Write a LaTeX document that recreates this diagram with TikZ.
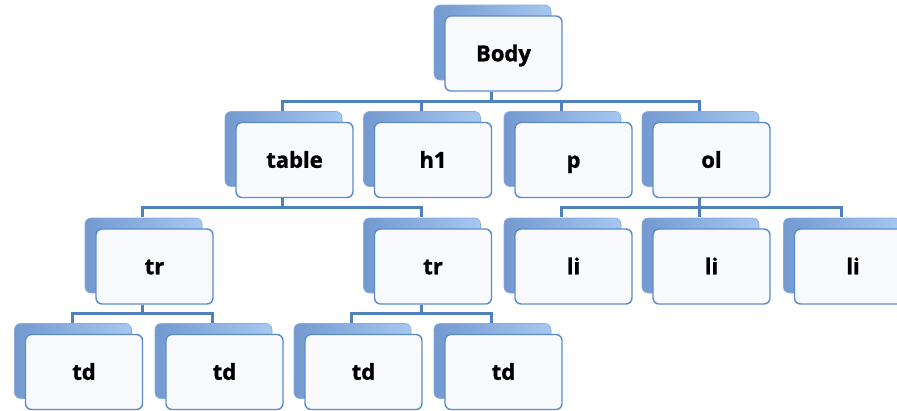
\documentclass[tikz,border=0pt]{standalone}
\usepackage{fontspec}
\setmainfont{Open Sans}[BoldFeatures={FakeBold=1.3}]
\usetikzlibrary{calc,shadows}
\definecolor{accent}{HTML}{4F81BD}
\definecolor{frontdraw}{HTML}{5A8BD0}
\definecolor{frontfill}{HTML}{F8FAFE}
\definecolor{backleft}{HTML}{7399CF}
\definecolor{backright}{HTML}{A6C7F0}
\definecolor{backdraw}{HTML}{8AADDE}
\tikzset{
  item/.style={draw=frontdraw, line width=1.4pt, fill=frontfill, rounded corners=6pt,
    minimum width=117pt, minimum height=75pt, inner sep=0pt,
    text height=15.5pt, text depth=0pt,
    font=\fontsize{22}{25}\selectfont\bfseries,
    copy shadow={shadow xshift=-11pt, shadow yshift=11pt, left color=backleft, right color=backright, draw=backdraw, line width=0.6pt}},
  conn/.style={draw=accent, line width=3pt, line join=miter,
    to path={(\tikztostart) |- ($(\tikztostart)!0.5!(\tikztotarget)$) -| (\tikztotarget)}}
}
\newcommand{\link}[2]{\draw[conn] ($(#1.south)+(-12,0)$) to ($(#2.north)+(-12,-11)$);}
\begin{document}
\begin{tikzpicture}[x=1pt,y=-1pt]
\useasboundingbox (0,0) rectangle (897,410);
\node[item] (body) at (503.5,53.5) {Body};
\node[item] (table) at (294.5,160) {table};
\node[item] (h1) at (433,160) {h1};
\node[item] (p) at (573.5,160) {p};
\node[item] (ol) at (711.5,160) {ol};
\node[item] (tr1) at (154.5,266.5) {tr};
\node[item] (tr2) at (433,266.5) {tr};
\node[item] (li1) at (573.5,266.5) {li};
\node[item] (li2) at (711.5,266.5) {li};
\node[item] (li3) at (853,266.5) {li};
\node[item] (td1) at (84,372) {td};
\node[item] (td2) at (224.5,372) {td};
\node[item] (td3) at (363.5,372) {td};
\node[item] (td4) at (503.5,372) {td};
\link{body}{table}
\link{body}{h1}
\link{body}{p}
\link{body}{ol}
\link{table}{tr1}
\link{table}{tr2}
\link{ol}{li1}
\link{ol}{li2}
\link{ol}{li3}
\link{tr1}{td1}
\link{tr1}{td2}
\link{tr2}{td3}
\link{tr2}{td4}
\end{tikzpicture}
\end{document}
